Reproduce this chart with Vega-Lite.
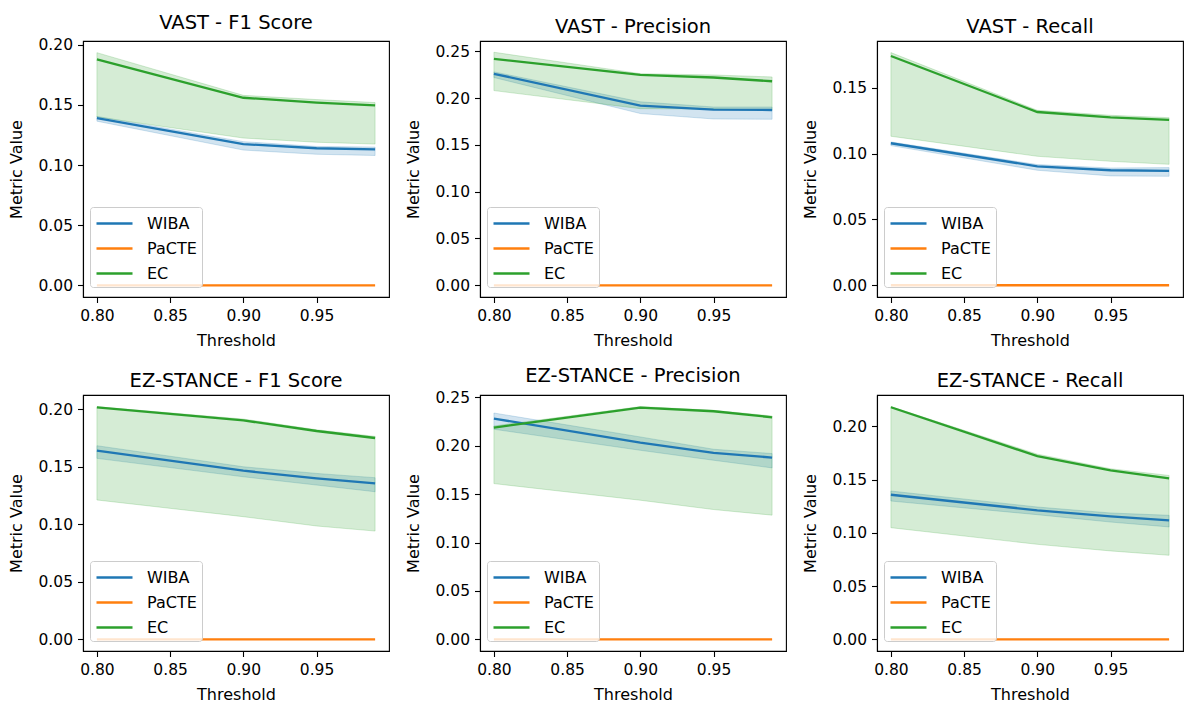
{
  "$schema": "https://vega.github.io/schema/vega-lite/v6.json",
  "autosize": {"type": "pad"},
  "padding": {"left": 8, "top": 12, "right": 0, "bottom": 0},
  "background": "white",
  "config": {
    "font": "DejaVu Sans",
    "view": {"stroke": "black", "strokeWidth": 1.1},
    "axis": {"labelFontSize": 15.5, "titleFontSize": 16, "labelColor": "black", "titleColor": "black", "tickColor": "black", "domainColor": "black", "grid": false, "tickSize": 5.5, "tickWidth": 1.1, "domainWidth": 1.1, "titleFontWeight": "normal", "labelFont": "DejaVu Sans", "titleFont": "DejaVu Sans"},
    "axisX": {"labelPadding": 6, "titlePadding": 8},
    "axisY": {"labelPadding": 5, "titlePadding": 13},
    "title": {"fontSize": 19.5, "fontWeight": "normal", "color": "black", "offset": 4, "font": "DejaVu Sans"}
  },
  "data": {"values": [
    {"p":1,"m":"WIBA","t":0.8,"v":0.139,"lo":0.1365,"hi":0.1405},
    {"p":1,"m":"WIBA","t":0.9,"v":0.1175,"lo":0.1125,"hi":0.1195},
    {"p":1,"m":"WIBA","t":0.95,"v":0.114,"lo":0.109,"hi":0.1155},
    {"p":1,"m":"WIBA","t":0.99,"v":0.113,"lo":0.108,"hi":0.115},
    {"p":1,"m":"PaCTE","t":0.8,"v":0,"lo":0,"hi":0},
    {"p":1,"m":"PaCTE","t":0.9,"v":0,"lo":0,"hi":0},
    {"p":1,"m":"PaCTE","t":0.95,"v":0,"lo":0,"hi":0},
    {"p":1,"m":"PaCTE","t":0.99,"v":0,"lo":0,"hi":0},
    {"p":1,"m":"EC","t":0.8,"v":0.188,"lo":0.14,"hi":0.1935},
    {"p":1,"m":"EC","t":0.9,"v":0.156,"lo":0.1225,"hi":0.158},
    {"p":1,"m":"EC","t":0.95,"v":0.152,"lo":0.119,"hi":0.1545},
    {"p":1,"m":"EC","t":0.99,"v":0.1497,"lo":0.1175,"hi":0.152},

    {"p":2,"m":"WIBA","t":0.8,"v":0.226,"lo":0.222,"hi":0.228},
    {"p":2,"m":"WIBA","t":0.9,"v":0.192,"lo":0.1835,"hi":0.196},
    {"p":2,"m":"WIBA","t":0.95,"v":0.1877,"lo":0.1777,"hi":0.1905},
    {"p":2,"m":"WIBA","t":0.99,"v":0.1873,"lo":0.1774,"hi":0.1905},
    {"p":2,"m":"PaCTE","t":0.8,"v":0,"lo":0,"hi":0},
    {"p":2,"m":"PaCTE","t":0.9,"v":0,"lo":0,"hi":0},
    {"p":2,"m":"PaCTE","t":0.95,"v":0,"lo":0,"hi":0},
    {"p":2,"m":"PaCTE","t":0.99,"v":0,"lo":0,"hi":0},
    {"p":2,"m":"EC","t":0.8,"v":0.242,"lo":0.208,"hi":0.249},
    {"p":2,"m":"EC","t":0.9,"v":0.2247,"lo":0.1887,"hi":0.2261},
    {"p":2,"m":"EC","t":0.95,"v":0.222,"lo":0.1884,"hi":0.2247},
    {"p":2,"m":"EC","t":0.99,"v":0.218,"lo":0.187,"hi":0.2226},

    {"p":3,"m":"WIBA","t":0.8,"v":0.1078,"lo":0.106,"hi":0.1088},
    {"p":3,"m":"WIBA","t":0.9,"v":0.0903,"lo":0.0873,"hi":0.0916},
    {"p":3,"m":"WIBA","t":0.95,"v":0.0873,"lo":0.083,"hi":0.089},
    {"p":3,"m":"WIBA","t":0.99,"v":0.0868,"lo":0.0827,"hi":0.0893},
    {"p":3,"m":"PaCTE","t":0.8,"v":0,"lo":0,"hi":0},
    {"p":3,"m":"PaCTE","t":0.9,"v":0,"lo":0,"hi":0},
    {"p":3,"m":"PaCTE","t":0.95,"v":0,"lo":0,"hi":0},
    {"p":3,"m":"PaCTE","t":0.99,"v":0,"lo":0,"hi":0},
    {"p":3,"m":"EC","t":0.8,"v":0.174,"lo":0.1131,"hi":0.1766},
    {"p":3,"m":"EC","t":0.9,"v":0.1315,"lo":0.0979,"hi":0.1328},
    {"p":3,"m":"EC","t":0.95,"v":0.1275,"lo":0.0941,"hi":0.129},
    {"p":3,"m":"EC","t":0.99,"v":0.1255,"lo":0.0918,"hi":0.1272},

    {"p":4,"m":"WIBA","t":0.8,"v":0.1641,"lo":0.1574,"hi":0.1684},
    {"p":4,"m":"WIBA","t":0.9,"v":0.1467,"lo":0.1414,"hi":0.1501},
    {"p":4,"m":"WIBA","t":0.95,"v":0.14,"lo":0.1342,"hi":0.1443},
    {"p":4,"m":"WIBA","t":0.99,"v":0.1357,"lo":0.1284,"hi":0.1406},
    {"p":4,"m":"PaCTE","t":0.8,"v":0,"lo":0,"hi":0},
    {"p":4,"m":"PaCTE","t":0.9,"v":0,"lo":0,"hi":0},
    {"p":4,"m":"PaCTE","t":0.95,"v":0,"lo":0,"hi":0},
    {"p":4,"m":"PaCTE","t":0.99,"v":0,"lo":0,"hi":0},
    {"p":4,"m":"EC","t":0.8,"v":0.2017,"lo":0.1212,"hi":0.2023},
    {"p":4,"m":"EC","t":0.9,"v":0.1904,"lo":0.1067,"hi":0.1916},
    {"p":4,"m":"EC","t":0.95,"v":0.1812,"lo":0.0986,"hi":0.1823},
    {"p":4,"m":"EC","t":0.99,"v":0.1751,"lo":0.0942,"hi":0.1765},

    {"p":5,"m":"WIBA","t":0.8,"v":0.228,"lo":0.217,"hi":0.2338},
    {"p":5,"m":"WIBA","t":0.9,"v":0.2032,"lo":0.1953,"hi":0.2091},
    {"p":5,"m":"WIBA","t":0.95,"v":0.1926,"lo":0.185,"hi":0.1964},
    {"p":5,"m":"WIBA","t":0.99,"v":0.1878,"lo":0.1771,"hi":0.1919},
    {"p":5,"m":"PaCTE","t":0.8,"v":0,"lo":0,"hi":0},
    {"p":5,"m":"PaCTE","t":0.9,"v":0,"lo":0,"hi":0},
    {"p":5,"m":"PaCTE","t":0.95,"v":0,"lo":0,"hi":0},
    {"p":5,"m":"PaCTE","t":0.99,"v":0,"lo":0,"hi":0},
    {"p":5,"m":"EC","t":0.8,"v":0.2187,"lo":0.1609,"hi":0.2204},
    {"p":5,"m":"EC","t":0.9,"v":0.2393,"lo":0.1437,"hi":0.2404},
    {"p":5,"m":"EC","t":0.95,"v":0.2356,"lo":0.1341,"hi":0.2366},
    {"p":5,"m":"EC","t":0.99,"v":0.2294,"lo":0.1283,"hi":0.2307},

    {"p":6,"m":"WIBA","t":0.8,"v":0.1357,"lo":0.1298,"hi":0.1392},
    {"p":6,"m":"WIBA","t":0.9,"v":0.1211,"lo":0.117,"hi":0.1242},
    {"p":6,"m":"WIBA","t":0.95,"v":0.1154,"lo":0.1101,"hi":0.1186},
    {"p":6,"m":"WIBA","t":0.99,"v":0.1117,"lo":0.1055,"hi":0.1164},
    {"p":6,"m":"PaCTE","t":0.8,"v":0,"lo":0,"hi":0},
    {"p":6,"m":"PaCTE","t":0.9,"v":0,"lo":0,"hi":0},
    {"p":6,"m":"PaCTE","t":0.95,"v":0,"lo":0,"hi":0},
    {"p":6,"m":"PaCTE","t":0.99,"v":0,"lo":0,"hi":0},
    {"p":6,"m":"EC","t":0.8,"v":0.2178,"lo":0.1048,"hi":0.2184},
    {"p":6,"m":"EC","t":0.9,"v":0.1719,"lo":0.0892,"hi":0.1738},
    {"p":6,"m":"EC","t":0.95,"v":0.1585,"lo":0.083,"hi":0.1601},
    {"p":6,"m":"EC","t":0.99,"v":0.151,"lo":0.0789,"hi":0.1538}
  ]},
  "columns": 3,
  "spacing": {"row": 98, "column": 91},
  "bounds": "flush",
  "resolve": {"scale": {"x": "independent", "y": "independent", "color": "independent", "fill": "independent", "stroke": "independent"}},
  "concat": [
    {
      "title": "VAST - F1 Score", "width": 306, "height": 256,
      "transform": [{"filter": "datum.p == 1"}],
      "encoding": {"x": {"field": "t", "type": "quantitative", "title": "Threshold", "scale": {"domain": [0.7905, 0.9995], "nice": false, "zero": false}, "axis": {"values": [0.8, 0.85, 0.9, 0.95], "format": ".2f"}}},
      "layer": [
        {"mark": {"type": "area", "fillOpacity": 0.2, "strokeOpacity": 0.2, "strokeWidth": 1},
         "encoding": {"y": {"field": "lo", "type": "quantitative", "title": "Metric Value", "scale": {"domain": [-0.0097, 0.2032], "nice": false, "zero": false}, "axis": {"values": [0, 0.05, 0.1, 0.15, 0.2], "format": ".2f"}}, "y2": {"field": "hi"},
          "fill": {"field": "m", "type": "nominal", "scale": {"range": ["#2ca02c", "#ff7f0e", "#1f77b4"]}, "legend": null},
          "stroke": {"field": "m", "type": "nominal", "scale": {"range": ["#2ca02c", "#ff7f0e", "#1f77b4"]}, "legend": null}}},
        {"mark": {"type": "line", "strokeWidth": 2.3},
         "encoding": {"y": {"field": "v", "type": "quantitative", "title": "Metric Value"},
          "color": {"field": "m", "type": "nominal", "scale": {"domain": ["WIBA", "PaCTE", "EC"], "range": ["#1f77b4", "#ff7f0e", "#2ca02c"]},
            "legend": {"title": null, "orient": "none", "legendX": 7, "legendY": 166, "padding": 5, "strokeColor": "#cccccc", "fillColor": "rgba(255,255,255,0.8)", "cornerRadius": 3, "labelFontSize": 16, "labelFont": "DejaVu Sans", "labelColor": "black", "symbolType": "M-1,0H2.6", "symbolStrokeWidth": 2.3, "symbolSize": 400, "labelOffset": 29, "rowPadding": 5}}}}
      ]
    },
    {
      "title": "VAST - Precision", "width": 306, "height": 256,
      "transform": [{"filter": "datum.p == 2"}],
      "encoding": {"x": {"field": "t", "type": "quantitative", "title": "Threshold", "scale": {"domain": [0.7905, 0.9995], "nice": false, "zero": false}, "axis": {"values": [0.8, 0.85, 0.9, 0.95], "format": ".2f"}}},
      "layer": [
        {"mark": {"type": "area", "fillOpacity": 0.2, "strokeOpacity": 0.2, "strokeWidth": 1},
         "encoding": {"y": {"field": "lo", "type": "quantitative", "title": "Metric Value", "scale": {"domain": [-0.0125, 0.261], "nice": false, "zero": false}, "axis": {"values": [0, 0.05, 0.1, 0.15, 0.2, 0.25], "format": ".2f"}}, "y2": {"field": "hi"},
          "fill": {"field": "m", "type": "nominal", "scale": {"range": ["#2ca02c", "#ff7f0e", "#1f77b4"]}, "legend": null},
          "stroke": {"field": "m", "type": "nominal", "scale": {"range": ["#2ca02c", "#ff7f0e", "#1f77b4"]}, "legend": null}}},
        {"mark": {"type": "line", "strokeWidth": 2.3},
         "encoding": {"y": {"field": "v", "type": "quantitative", "title": "Metric Value"},
          "color": {"field": "m", "type": "nominal", "scale": {"domain": ["WIBA", "PaCTE", "EC"], "range": ["#1f77b4", "#ff7f0e", "#2ca02c"]},
            "legend": {"title": null, "orient": "none", "legendX": 7, "legendY": 166, "padding": 5, "strokeColor": "#cccccc", "fillColor": "rgba(255,255,255,0.8)", "cornerRadius": 3, "labelFontSize": 16, "labelFont": "DejaVu Sans", "labelColor": "black", "symbolType": "M-1,0H2.6", "symbolStrokeWidth": 2.3, "symbolSize": 400, "labelOffset": 29, "rowPadding": 5}}}}
      ]
    },
    {
      "title": "VAST - Recall", "width": 306, "height": 256,
      "transform": [{"filter": "datum.p == 3"}],
      "encoding": {"x": {"field": "t", "type": "quantitative", "title": "Threshold", "scale": {"domain": [0.7905, 0.9995], "nice": false, "zero": false}, "axis": {"values": [0.8, 0.85, 0.9, 0.95], "format": ".2f"}}},
      "layer": [
        {"mark": {"type": "area", "fillOpacity": 0.2, "strokeOpacity": 0.2, "strokeWidth": 1},
         "encoding": {"y": {"field": "lo", "type": "quantitative", "title": "Metric Value", "scale": {"domain": [-0.0089, 0.1854], "nice": false, "zero": false}, "axis": {"values": [0, 0.05, 0.1, 0.15], "format": ".2f"}}, "y2": {"field": "hi"},
          "fill": {"field": "m", "type": "nominal", "scale": {"range": ["#2ca02c", "#ff7f0e", "#1f77b4"]}, "legend": null},
          "stroke": {"field": "m", "type": "nominal", "scale": {"range": ["#2ca02c", "#ff7f0e", "#1f77b4"]}, "legend": null}}},
        {"mark": {"type": "line", "strokeWidth": 2.3},
         "encoding": {"y": {"field": "v", "type": "quantitative", "title": "Metric Value"},
          "color": {"field": "m", "type": "nominal", "scale": {"domain": ["WIBA", "PaCTE", "EC"], "range": ["#1f77b4", "#ff7f0e", "#2ca02c"]},
            "legend": {"title": null, "orient": "none", "legendX": 7, "legendY": 166, "padding": 5, "strokeColor": "#cccccc", "fillColor": "rgba(255,255,255,0.8)", "cornerRadius": 3, "labelFontSize": 16, "labelFont": "DejaVu Sans", "labelColor": "black", "symbolType": "M-1,0H2.6", "symbolStrokeWidth": 2.3, "symbolSize": 400, "labelOffset": 29, "rowPadding": 5}}}}
      ]
    },
    {
      "title": "EZ-STANCE - F1 Score", "width": 306, "height": 256,
      "transform": [{"filter": "datum.p == 4"}],
      "encoding": {"x": {"field": "t", "type": "quantitative", "title": "Threshold", "scale": {"domain": [0.7905, 0.9995], "nice": false, "zero": false}, "axis": {"values": [0.8, 0.85, 0.9, 0.95], "format": ".2f"}}},
      "layer": [
        {"mark": {"type": "area", "fillOpacity": 0.2, "strokeOpacity": 0.2, "strokeWidth": 1},
         "encoding": {"y": {"field": "lo", "type": "quantitative", "title": "Metric Value", "scale": {"domain": [-0.0101, 0.2125], "nice": false, "zero": false}, "axis": {"values": [0, 0.05, 0.1, 0.15, 0.2], "format": ".2f"}}, "y2": {"field": "hi"},
          "fill": {"field": "m", "type": "nominal", "scale": {"range": ["#2ca02c", "#ff7f0e", "#1f77b4"]}, "legend": null},
          "stroke": {"field": "m", "type": "nominal", "scale": {"range": ["#2ca02c", "#ff7f0e", "#1f77b4"]}, "legend": null}}},
        {"mark": {"type": "line", "strokeWidth": 2.3},
         "encoding": {"y": {"field": "v", "type": "quantitative", "title": "Metric Value"},
          "color": {"field": "m", "type": "nominal", "scale": {"domain": ["WIBA", "PaCTE", "EC"], "range": ["#1f77b4", "#ff7f0e", "#2ca02c"]},
            "legend": {"title": null, "orient": "none", "legendX": 7, "legendY": 166, "padding": 5, "strokeColor": "#cccccc", "fillColor": "rgba(255,255,255,0.8)", "cornerRadius": 3, "labelFontSize": 16, "labelFont": "DejaVu Sans", "labelColor": "black", "symbolType": "M-1,0H2.6", "symbolStrokeWidth": 2.3, "symbolSize": 400, "labelOffset": 29, "rowPadding": 5}}}}
      ]
    },
    {
      "title": "EZ-STANCE - Precision", "width": 306, "height": 256,
      "transform": [{"filter": "datum.p == 5"}],
      "encoding": {"x": {"field": "t", "type": "quantitative", "title": "Threshold", "scale": {"domain": [0.7905, 0.9995], "nice": false, "zero": false}, "axis": {"values": [0.8, 0.85, 0.9, 0.95], "format": ".2f"}}},
      "layer": [
        {"mark": {"type": "area", "fillOpacity": 0.2, "strokeOpacity": 0.2, "strokeWidth": 1},
         "encoding": {"y": {"field": "lo", "type": "quantitative", "title": "Metric Value", "scale": {"domain": [-0.012, 0.2524], "nice": false, "zero": false}, "axis": {"values": [0, 0.05, 0.1, 0.15, 0.2, 0.25], "format": ".2f"}}, "y2": {"field": "hi"},
          "fill": {"field": "m", "type": "nominal", "scale": {"range": ["#2ca02c", "#ff7f0e", "#1f77b4"]}, "legend": null},
          "stroke": {"field": "m", "type": "nominal", "scale": {"range": ["#2ca02c", "#ff7f0e", "#1f77b4"]}, "legend": null}}},
        {"mark": {"type": "line", "strokeWidth": 2.3},
         "encoding": {"y": {"field": "v", "type": "quantitative", "title": "Metric Value"},
          "color": {"field": "m", "type": "nominal", "scale": {"domain": ["WIBA", "PaCTE", "EC"], "range": ["#1f77b4", "#ff7f0e", "#2ca02c"]},
            "legend": {"title": null, "orient": "none", "legendX": 7, "legendY": 166, "padding": 5, "strokeColor": "#cccccc", "fillColor": "rgba(255,255,255,0.8)", "cornerRadius": 3, "labelFontSize": 16, "labelFont": "DejaVu Sans", "labelColor": "black", "symbolType": "M-1,0H2.6", "symbolStrokeWidth": 2.3, "symbolSize": 400, "labelOffset": 29, "rowPadding": 5}}}}
      ]
    },
    {
      "title": "EZ-STANCE - Recall", "width": 306, "height": 256,
      "transform": [{"filter": "datum.p == 6"}],
      "encoding": {"x": {"field": "t", "type": "quantitative", "title": "Threshold", "scale": {"domain": [0.7905, 0.9995], "nice": false, "zero": false}, "axis": {"values": [0.8, 0.85, 0.9, 0.95], "format": ".2f"}}},
      "layer": [
        {"mark": {"type": "area", "fillOpacity": 0.2, "strokeOpacity": 0.2, "strokeWidth": 1},
         "encoding": {"y": {"field": "lo", "type": "quantitative", "title": "Metric Value", "scale": {"domain": [-0.0109, 0.2293], "nice": false, "zero": false}, "axis": {"values": [0, 0.05, 0.1, 0.15, 0.2], "format": ".2f"}}, "y2": {"field": "hi"},
          "fill": {"field": "m", "type": "nominal", "scale": {"range": ["#2ca02c", "#ff7f0e", "#1f77b4"]}, "legend": null},
          "stroke": {"field": "m", "type": "nominal", "scale": {"range": ["#2ca02c", "#ff7f0e", "#1f77b4"]}, "legend": null}}},
        {"mark": {"type": "line", "strokeWidth": 2.3},
         "encoding": {"y": {"field": "v", "type": "quantitative", "title": "Metric Value"},
          "color": {"field": "m", "type": "nominal", "scale": {"domain": ["WIBA", "PaCTE", "EC"], "range": ["#1f77b4", "#ff7f0e", "#2ca02c"]},
            "legend": {"title": null, "orient": "none", "legendX": 7, "legendY": 166, "padding": 5, "strokeColor": "#cccccc", "fillColor": "rgba(255,255,255,0.8)", "cornerRadius": 3, "labelFontSize": 16, "labelFont": "DejaVu Sans", "labelColor": "black", "symbolType": "M-1,0H2.6", "symbolStrokeWidth": 2.3, "symbolSize": 400, "labelOffset": 29, "rowPadding": 5}}}}
      ]
    }
  ]
}
